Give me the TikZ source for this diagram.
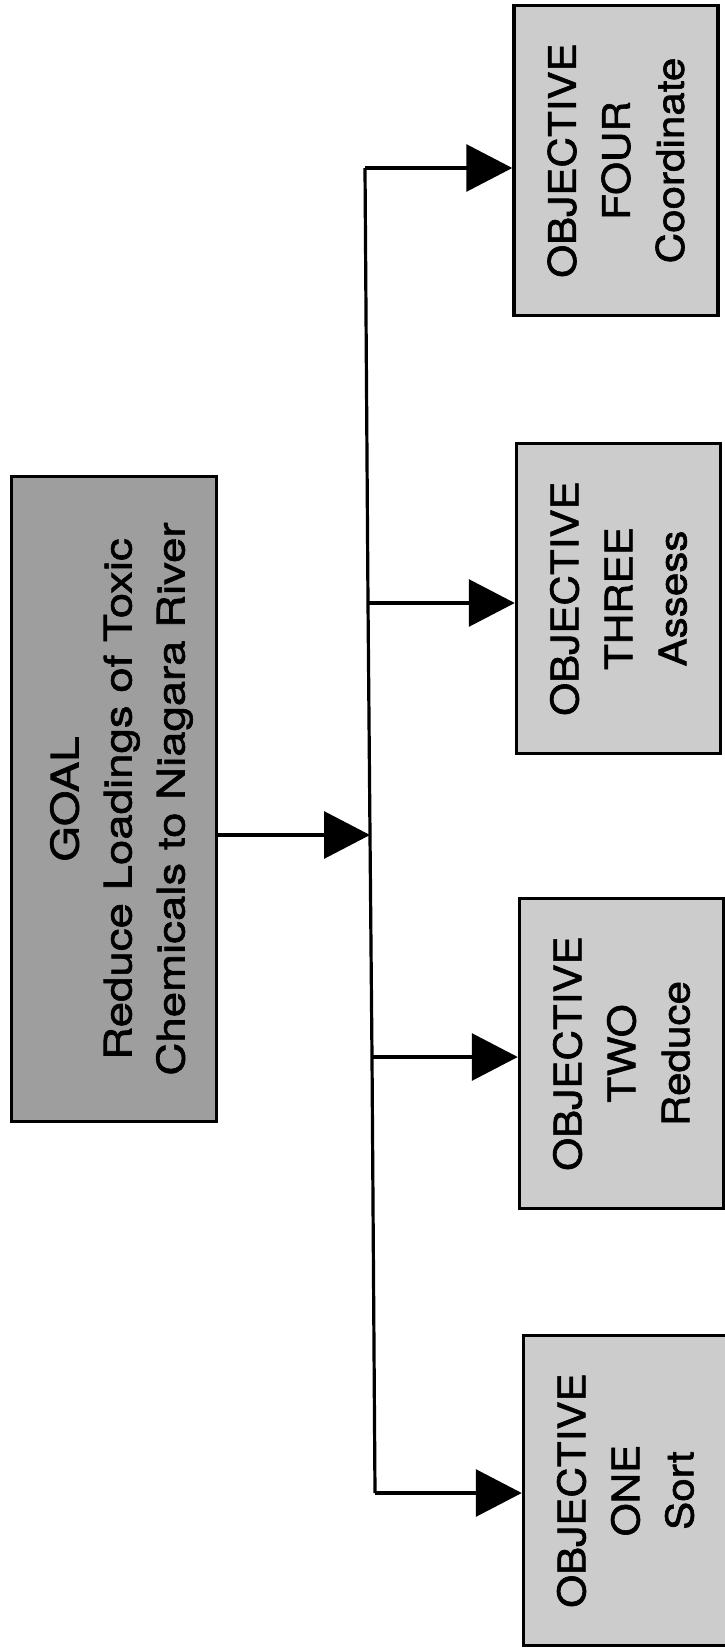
\documentclass[tikz,border=0pt]{standalone}
\usepackage{fontspec}
\setmainfont{TeX Gyre Heros}
\newfontfamily\goalfont[FakeStretch=1.2,FakeBold=1.6]{TeX Gyre Heros}
\newfontfamily\objfont[FakeStretch=1.11,FakeBold=1.6]{TeX Gyre Heros}
\usepackage{tikz}
\usetikzlibrary{arrows.meta}
\tikzstyle{goalbox}=[draw, line width=3.5pt, fill=black!38, rotate=90, minimum width=645pt, minimum height=205pt, align=center, text depth=0pt, font=\goalfont\fontsize{38}{53}\selectfont]
\tikzstyle{objbox}=[draw, line width=3.5pt, fill=black!20, rotate=90, minimum width=310pt, minimum height=204pt, align=center, font=\objfont\fontsize{38}{54}\selectfont]

\begin{document}
\begin{tikzpicture}[x=1pt,y=-1pt,line width=3.2pt,>={Triangle[length=46pt,width=47pt]}]
    \clip (0,0) rectangle (725,1648);
    \node [goalbox] (goal) at (114,799) {\rule{0pt}{35pt}GOAL\\Reduce Loadings of Toxic\\Chemicals to Niagara River};
    \node [objbox] (four) at (616,160.5) {OBJECTIVE\\FOUR\\Coordinate};
    \node [objbox] (three) at (618.5,598.5) {OBJECTIVE\\THREE\\Assess};
    \node [objbox] (two) at (621.5,1053.5) {OBJECTIVE\\TWO\\Reduce};
    \node [objbox] (one) at (625.5,1490.5) {OBJECTIVE\\ONE\\Sort};
    % spine, a little skewed like the scan
    \coordinate (s4) at (365,168);
    \coordinate (s3) at (368,603);
    \coordinate (hub) at (370,835);
    \coordinate (s2) at (372,1057);
    \coordinate (s1) at (375,1493);
    \draw (s4) -- (s3) -- (hub) -- (s2) -- (s1);
    \draw[->] (goal.south |- hub) -- (hub);
    \draw[->] (s4) -- (four.north |- s4);
    \draw[->] (s3) -- (three.north |- s3);
    \draw[->] (s2) -- (two.north |- s2);
    \draw[->] (s1) -- (one.north |- s1);
\end{tikzpicture}
\end{document}
